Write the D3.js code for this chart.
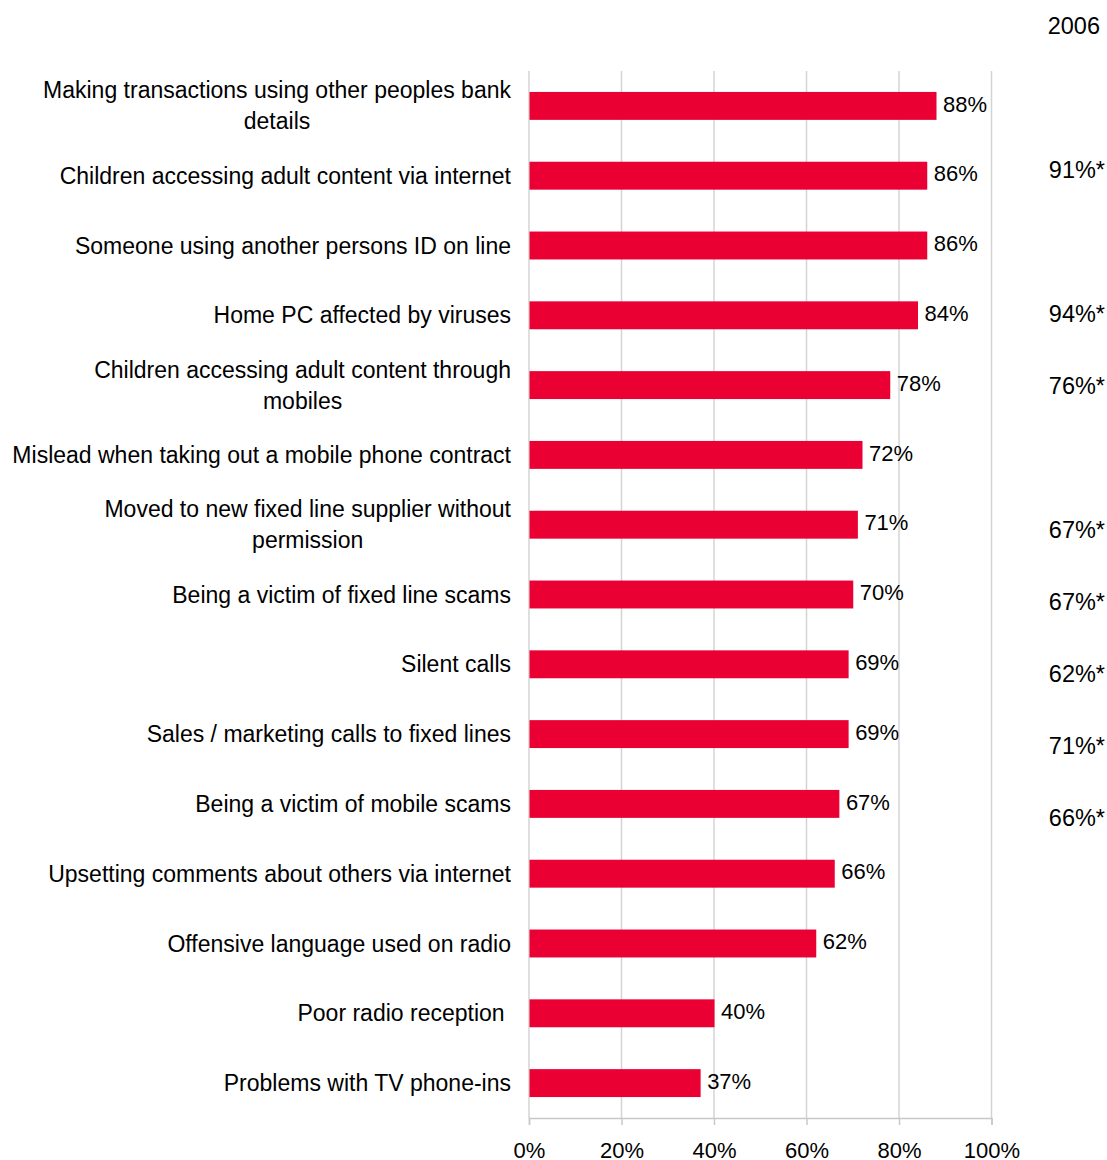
<!DOCTYPE html>
<html>
<head>
<meta charset="utf-8">
<script src="https://cdn.jsdelivr.net/npm/d3@7"></script>
<style>
  html, body { margin: 0; padding: 0; background: #fff; }
  svg text { font-family: "Liberation Sans", Arial, sans-serif; fill: #000; }
</style>
</head>
<body>
<svg id="chart" width="1107" height="1160"></svg>
<script>
// Concern levels per issue (current survey)
const categories = [
  ["Making transactions using other peoples bank", "details"],
  ["Children accessing adult content via internet"],
  ["Someone using another persons ID on line"],
  ["Home PC affected by viruses"],
  ["Children accessing adult content through", "mobiles"],
  ["Mislead when taking out a mobile phone contract"],
  ["Moved to new fixed line supplier without", "permission"],
  ["Being a victim of fixed line scams"],
  ["Silent calls"],
  ["Sales / marketing calls to fixed lines"],
  ["Being a victim of mobile scams"],
  ["Upsetting comments about others via internet"],
  ["Offensive language used on radio"],
  ["Poor radio reception "],
  ["Problems with TV phone-ins"]
];
const values = [88, 86, 86, 84, 78, 72, 71, 70, 69, 69, 67, 66, 62, 40, 37];

// Comparison figures from 2006 (null where not asked)
const values2006 = [null, 91, null, 94, 76, null, 67, 67, 62, 71, 66, null, null, null, null];
const label2006 = "2006";

const tickValues = [0, 20, 40, 60, 80, 100];

const svg = d3.select("#chart");
const plot = { left: 529, right: 991.5, top: 71, bottom: 1118 };
const ids = d3.range(categories.length);

const x = d3.scaleLinear().domain([0, 100]).range([plot.left, plot.right]);
const y = d3.scaleBand().domain(ids).range([plot.top, plot.bottom]).paddingInner(0.6).paddingOuter(0.3);
// 2006 column sits on its own slightly wider row grid
const y2006 = d3.scalePoint().domain(ids).range([98, 98 + 72 * 14]);

// Vertical gridlines
svg.append("g")
  .selectAll("line")
  .data(tickValues)
  .join("line")
  .attr("x1", d => x(d)).attr("x2", d => x(d))
  .attr("y1", plot.top).attr("y2", plot.bottom)
  .attr("stroke", "#d4d4d4").attr("stroke-width", 1.5);

// Bottom axis
const axis = svg.append("g")
  .attr("transform", `translate(0,${plot.bottom})`)
  .call(d3.axisBottom(x).tickValues(tickValues).tickFormat(d => d + "%").tickSize(7).tickPadding(17));
axis.select(".domain").attr("stroke", "#c8c8c8").attr("stroke-width", 1.5);
axis.selectAll(".tick line").attr("stroke", "#c8c8c8").attr("stroke-width", 1.5);
axis.selectAll(".tick text")
  .attr("font-size", 22)
  .attr("font-family", "Liberation Sans, Arial, sans-serif")
  .attr("fill", "#000");

// Bars
svg.append("g")
  .selectAll("rect")
  .data(ids)
  .join("rect")
  .attr("x", x(0) + 0.5)
  .attr("y", i => y(i))
  .attr("width", i => x(values[i]) - x(0))
  .attr("height", y.bandwidth())
  .attr("fill", "#eb0034");

// Value labels
svg.append("g")
  .selectAll("text")
  .data(ids)
  .join("text")
  .attr("x", i => x(values[i]) + 7)
  .attr("y", i => y(i) + y.bandwidth() / 2 - 2)
  .attr("dy", "0.35em")
  .attr("font-size", 22)
  .text(i => values[i] + "%");

// Category labels (right-aligned block, wrapped lines centred within it)
const lineH = 31;
const catSize = 23;
const catG = svg.append("g");
ids.forEach(i => {
  const lines = categories[i];
  const cy = y(i) + y.bandwidth() / 2;
  const t = catG.append("text")
    .attr("font-size", catSize)
    .style("white-space", "pre");
  if (lines.length === 1) {
    t.attr("x", 511).attr("y", cy).attr("dy", "0.35em").attr("text-anchor", "end").text(lines[0]);
  } else {
    t.attr("text-anchor", "middle");
    const spans = lines.map((s, k) => t.append("tspan")
      .attr("x", 0)
      .attr("y", cy + (k - (lines.length - 1) / 2) * lineH)
      .attr("dy", "0.35em").text(s));
    const w = d3.max(spans, sp => sp.node().getComputedTextLength());
    spans.forEach(sp => sp.attr("x", 511 - w / 2));
  }
});

// 2006 column
const colSize = 23.5;
svg.append("text")
  .attr("x", 1100).attr("y", 26).attr("dy", "0.35em")
  .attr("text-anchor", "end").attr("font-size", colSize)
  .text(label2006);

svg.append("g")
  .selectAll("text")
  .data(ids.filter(i => values2006[i] !== null))
  .join("text")
  .attr("x", 1105)
  .attr("y", i => y2006(i))
  .attr("dy", "0.35em")
  .attr("text-anchor", "end")
  .attr("font-size", colSize)
  .text(i => values2006[i] + "%*");
</script>
</body>
</html>
